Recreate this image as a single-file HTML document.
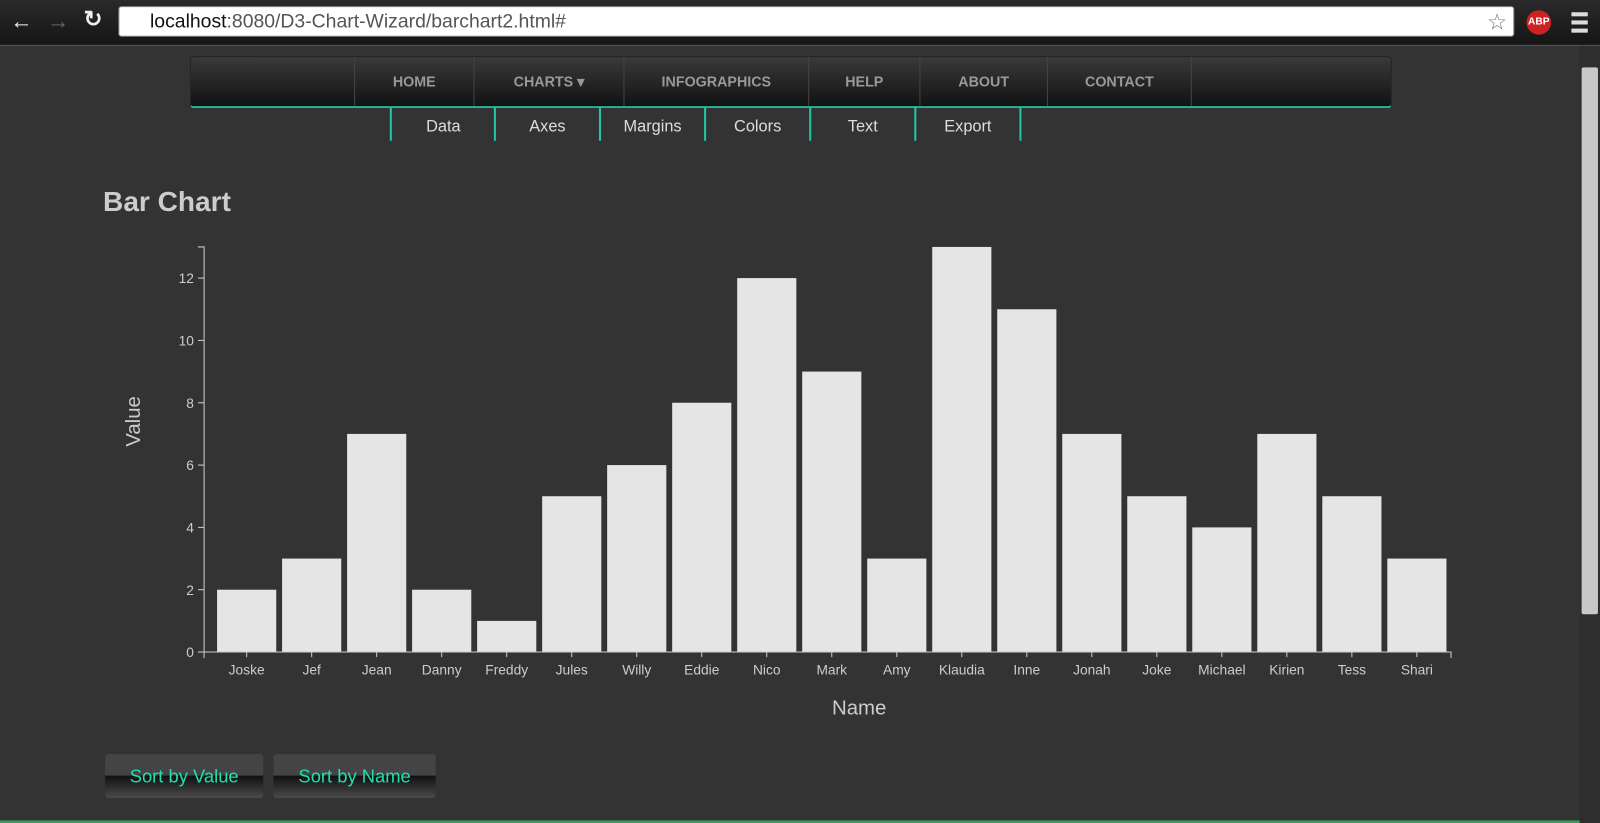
<!DOCTYPE html>
<html><head><meta charset="utf-8"><style>
body{margin:0;width:1600px;height:823px;overflow:hidden;background:#333;font-family:"Liberation Sans",sans-serif}
#wrap{position:absolute;left:0;top:0;width:1568px;height:807px;transform:scale(1.020408);transform-origin:0 0}
#chrome{position:absolute;left:0;top:0;width:1568px;height:44px;background:linear-gradient(#2a2a2a,#151515);border-bottom:1px solid #555}
#url{position:absolute;left:116px;top:6px;width:1368px;height:30px;background:#fff;border:1px solid #888;border-radius:3px;font-size:19px;line-height:30px;color:#555;box-sizing:border-box;padding-left:30px}
#url b{font-weight:normal;color:#111}
.nav{position:absolute;left:186px;top:55px;width:1176px;height:48px;background:linear-gradient(#3a3a3a,#121212);border:1px solid #222;border-bottom:2px solid #1fb898;border-radius:4px}
.nav div{position:absolute;top:0;height:48px;border-left:1px solid #444;color:#999;font-size:14px;font-weight:bold;text-align:center;line-height:48px}
.sub{position:absolute;top:105px;height:33px;border-left:2px solid #1fc8a0;color:#ddd;font-size:16px;text-align:center;line-height:40px}
.btn{position:absolute;top:739px;height:43px;border-radius:3px;background:linear-gradient(#444 0,#444 48%,#111 50%,#4a4a4a 100%);color:#1fe0b0;font-size:18px;line-height:44px;text-align:center}
#scroll{position:absolute;left:1548px;top:45px;width:20px;height:762px;background:#2e2e2e}
#thumb{position:absolute;left:1550px;top:66px;width:16px;height:536px;background:#c8c8c8;border-radius:2px}
</style></head><body>
<div id="wrap">
<div id="chrome">
<span style="position:absolute;left:10px;top:8px;color:#eee;font-size:22px">←</span>
<span style="position:absolute;left:46px;top:8px;color:#666;font-size:22px">→</span>
<span style="position:absolute;left:82px;top:6px;color:#eee;font-size:22px;font-weight:bold">↻</span>
<div id="url"><b>localhost</b>:8080/D3-Chart-Wizard/barchart2.html#<span style="position:absolute;right:6px;top:0;color:#777;font-size:22px">☆</span></div>
<div style="position:absolute;left:1496px;top:10px;width:24px;height:24px;border-radius:50%;background:#c22;color:#fff;font-size:10px;font-weight:bold;text-align:center;line-height:24px">ABP</div>
<div style="position:absolute;left:1540px;top:12px;width:16px;height:20px;border-top:4px solid #ddd;border-bottom:4px solid #ddd;box-sizing:border-box"><div style="margin-top:4px;height:4px;background:#ddd"></div></div>
</div>
<div class="nav">
<div style="left:160px;width:116px">HOME</div>
<div style="left:277px;width:146px">CHARTS ▾</div>
<div style="left:424px;width:180px">INFOGRAPHICS</div>
<div style="left:605px;width:108px">HELP</div>
<div style="left:714px;width:124px">ABOUT</div>
<div style="left:839px;width:140px">CONTACT</div>
<div style="left:980px;width:195px"></div>
</div>
<div class="sub" style="left:382px;width:101px">Data</div>
<div class="sub" style="left:484px;width:101px">Axes</div>
<div class="sub" style="left:587px;width:101px">Margins</div>
<div class="sub" style="left:690px;width:101px">Colors</div>
<div class="sub" style="left:793px;width:101px">Text</div>
<div class="sub" style="left:896px;width:101px;border-right:2px solid #1fc8a0">Export</div>
<div style="position:absolute;left:101px;top:182px;color:#ccc;font-size:27.5px;font-weight:bold">Bar Chart</div>
<svg id="chart" width="1568" height="807" style="position:absolute;left:0;top:0"></svg>
<div class="btn" style="left:103px;width:155px">Sort by Value</div>
<div class="btn" style="left:268px;width:159px">Sort by Name</div>
<div id="scroll"></div><div id="thumb"></div>
<div style="position:absolute;left:0;top:804px;width:1548px;height:3px;background:#3a9a5a"></div>
</div>
<script>
const names=["Joske","Jef","Jean","Danny","Freddy","Jules","Willy","Eddie","Nico","Mark","Amy","Klaudia","Inne","Jonah","Joke","Michael","Kirien","Tess","Shari"];
const values=[2,3,7,2,1,5,6,8,12,9,3,13,11,7,5,4,7,5,3];
const yTicks=[0,2,4,6,8,10,12];
const svg=document.getElementById('chart');const NS='http://www.w3.org/2000/svg';
const x0=200,x1=1422,y0=639,yMax=13,yTop=242;
const step=(x1-x0)/(names.length+0.18);
const xs=i=>x0+step*(i+0.2);const bw=step*0.91;
const ys=v=>y0-(y0-yTop)*v/yMax;
function mk(t,a){const e=document.createElementNS(NS,t);for(const k in a)e.setAttribute(k,a[k]);svg.appendChild(e);return e;}
values.forEach((v,i)=>{const r=mk('rect',{x:xs(i),y:ys(v),width:bw,height:y0-ys(v),fill:'#e5e5e5'});


const t=mk('text',{x:xs(i)+bw/2,y:661,'text-anchor':'middle',fill:'#ccc','font-size':13.5,'font-family':'Liberation Sans'});t.textContent=names[i];


mk('line',{x1:xs(i)+bw/2,x2:xs(i)+bw/2,y1:y0,y2:y0+5,stroke:'#ccc'});});
mk('path',{d:`M${x0},${y0+6}V${y0}H${x1}V${y0+6}`,fill:'none',stroke:'#ccc'});
mk('path',{d:`M${x0-6},${yTop}H${x0}V${y0}H${x0-6}`,fill:'none',stroke:'#ccc'});
yTicks.forEach(v=>{mk('line',{x1:x0-6,x2:x0,y1:ys(v),y2:ys(v),stroke:'#ccc'});
const t=mk('text',{x:x0-10,y:ys(v)+5,'text-anchor':'end',fill:'#ccc','font-size':13.5,'font-family':'Liberation Sans'});t.textContent=v;

});
const xt=mk('text',{x:842,y:700,'text-anchor':'middle',fill:'#ccc','font-size':20,'font-family':'Liberation Sans'});xt.textContent='Name';


const yt=mk('text',{x:137,y:413,'text-anchor':'middle',fill:'#ccc','font-size':20,'font-family':'Liberation Sans',transform:'rotate(-90 137 413)'});yt.textContent='Value';


</script>
</body></html>
